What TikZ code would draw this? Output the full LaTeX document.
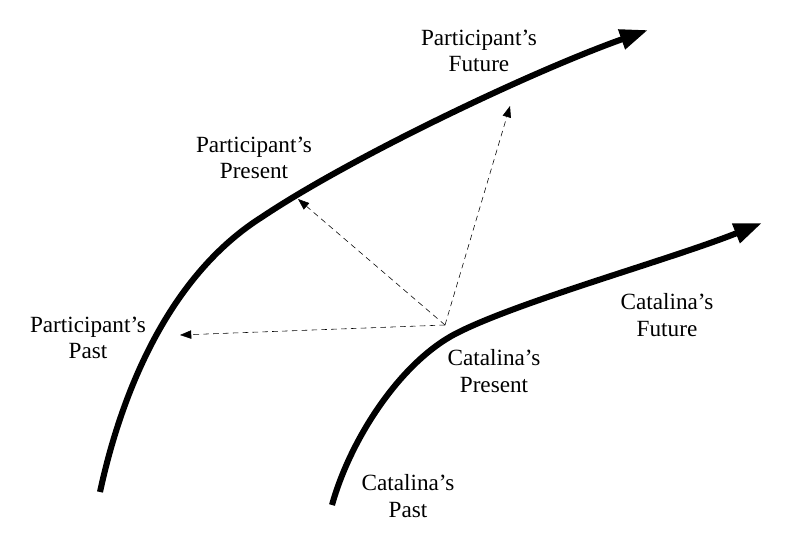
\documentclass[tikz,border=0pt]{standalone}
\usepackage{fontspec}
\setmainfont{Liberation Serif}
\usetikzlibrary{arrows.meta}

\begin{document}
\begin{tikzpicture}[x=0.025cm,y=-0.025cm,
    timeline/.style={line width=4.3pt,-{Triangle[length=20pt,width=14pt]}},
    view/.style={dash pattern=on 4pt off 3pt,thin,-{Triangle[length=8pt,width=6pt]}},
    label/.style={align=center,font=\fontsize{16.5pt}{19pt}\selectfont}]
    \useasboundingbox (0,0) rectangle (800,551);
    % participant's timeline
    \coordinate (pstart) at (100,492);
    \coordinate (pmid) at (262,217);
    \coordinate (pend) at (648,30);
    \draw [timeline] (pstart) .. controls (122,390) and (170,275) .. (pmid)
        .. controls (350,158) and (530,72) .. (pend);
    % catalina's timeline
    \coordinate (cstart) at (332,505);
    \coordinate (cmid) at (457,333);
    \coordinate (cend) at (762,223);
    \draw [timeline] (cstart) .. controls (350,440) and (400,362) .. (cmid)
        .. controls (520,301) and (672,259) .. (cend);
    % labels
    \node [label] (pfuture) at (479,51) {Participant's\\Future};
    \node [label] (ppresent) at (254,158) {Participant's\\Present};
    \node [label] (ppast) at (88,338) {Participant's\\Past};
    \node [label] (cfuture) at (667,315) {Catalina's\\Future};
    \node [label] (cpresent) at (494,371) {Catalina's\\Present};
    \node [label] (cpast) at (408,496) {Catalina's\\Past};
    % perspective arrows
    \coordinate (origin) at (445,325);
    \coordinate (tofuture) at (510,106);
    \coordinate (topresent) at (298,199);
    \coordinate (topast) at (180,335);
    \draw [view] (origin) -- (tofuture);
    \draw [view] (origin) -- (topresent);
    \draw [view] (origin) -- (topast);
\end{tikzpicture}
\end{document}
